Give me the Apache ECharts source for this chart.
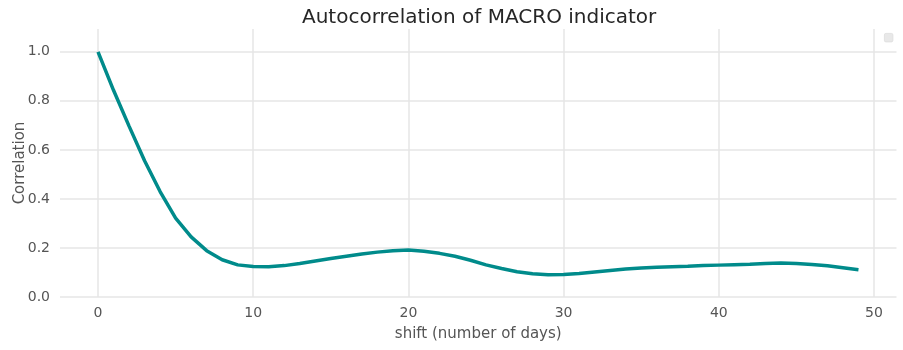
<!DOCTYPE html>
<html>
<head>
<meta charset="utf-8">
<script src="https://cdn.jsdelivr.net/npm/echarts@6/dist/echarts.min.js"></script>
<style>
html,body{margin:0;padding:0;background:#fff;}
#chart{width:903px;height:350px;}
</style>
</head>
<body>
<div id="chart"></div>
<script>
const shifts = [0,1,2,3,4,5,6,7,8,9,10,11,12,13,14,15,16,17,18,19,20,21,22,23,24,25,26,27,28,29,30,31,32,33,34,35,36,37,38,39,40,41,42,43,44,45,46,47,48,49];
const correlation = [1.000,0.843,0.697,0.556,0.430,0.322,0.245,0.189,0.152,0.131,
  0.124,0.123,0.128,0.137,0.147,0.157,0.166,0.175,0.183,0.189,
  0.192,0.187,0.178,0.166,0.150,0.131,0.116,0.103,0.095,0.091,
  0.092,0.096,0.102,0.108,0.114,0.118,0.121,0.123,0.125,0.128,
  0.130,0.132,0.134,0.137,0.139,0.137,0.133,0.127,0.119,0.111];
const xTicks = [0,10,20,30,40,50];
const yTicks = [0.0,0.2,0.4,0.6,0.8,1.0];
const titleText = 'Autocorrelation of MACRO indicator';
const xName = 'shift (number of days)';
const yName = 'Correlation';

const FONT = 'DejaVu Sans';
const chart = echarts.init(document.getElementById('chart'), null, {renderer:'canvas'});
const data = shifts.map((s,i)=>[s, correlation[i]]);
const isTick = (arr, v) => arr.some(t => Math.abs(t - v) < 1e-6);

chart.setOption({
  animation:false,
  backgroundColor:'#ffffff',
  title:{
    text:titleText, left:297, top:3,
    textStyle:{fontFamily:FONT, fontSize:20, fontWeight:'normal', color:'#262626'}
  },
  grid:{left:60, right:6.5, top:29, bottom:53, containLabel:false, outerBoundsMode:'none'},
  xAxis:{
    type:'value', min:-2.45, max:51.45, splitNumber:5,
    name:xName, nameLocation:'middle', nameGap:30, nameMoveOverlap:false,
    nameTextStyle:{fontFamily:FONT, fontSize:15, color:'#555555'},
    axisLine:{show:false}, axisTick:{show:false},
    axisLabel:{fontFamily:FONT, fontSize:14, color:'#555555', margin:9,
      showMinLabel:false, showMaxLabel:false,
      formatter:v => isTick(xTicks, v) ? String(Math.round(v)) : ''},
    splitLine:{show:true, showMinLine:false, showMaxLine:false,
      lineStyle:{color:'#e6e6e6', width:1.5}}
  },
  yAxis:{
    type:'value', min:0, max:1.093, interval:0.2,
    name:yName, nameLocation:'middle', nameGap:32, nameMoveOverlap:false,
    nameTextStyle:{fontFamily:FONT, fontSize:15, color:'#555555'},
    axisLine:{show:false}, axisTick:{show:false},
    axisLabel:{fontFamily:FONT, fontSize:14, color:'#555555', margin:10,
      showMaxLabel:false,
      formatter:v => isTick(yTicks, v) ? v.toFixed(1) : ''},
    splitLine:{show:true, showMinLine:true, showMaxLine:false,
      lineStyle:{color:'#e6e6e6', width:1.5}}
  },
  graphic:[{
    type:'rect', left:884, top:33, shape:{width:8.5, height:8.5, r:1.5},
    style:{fill:'#e8e8e8', stroke:'#dddddd', lineWidth:0.8}
  }],
  series:[{
    type:'line', data:data, showSymbol:false, symbol:'none',
    lineStyle:{color:'#008b8b', width:3.5}, itemStyle:{color:'#008b8b'},
    smooth:false
  }]
});
</script>
</body>
</html>
